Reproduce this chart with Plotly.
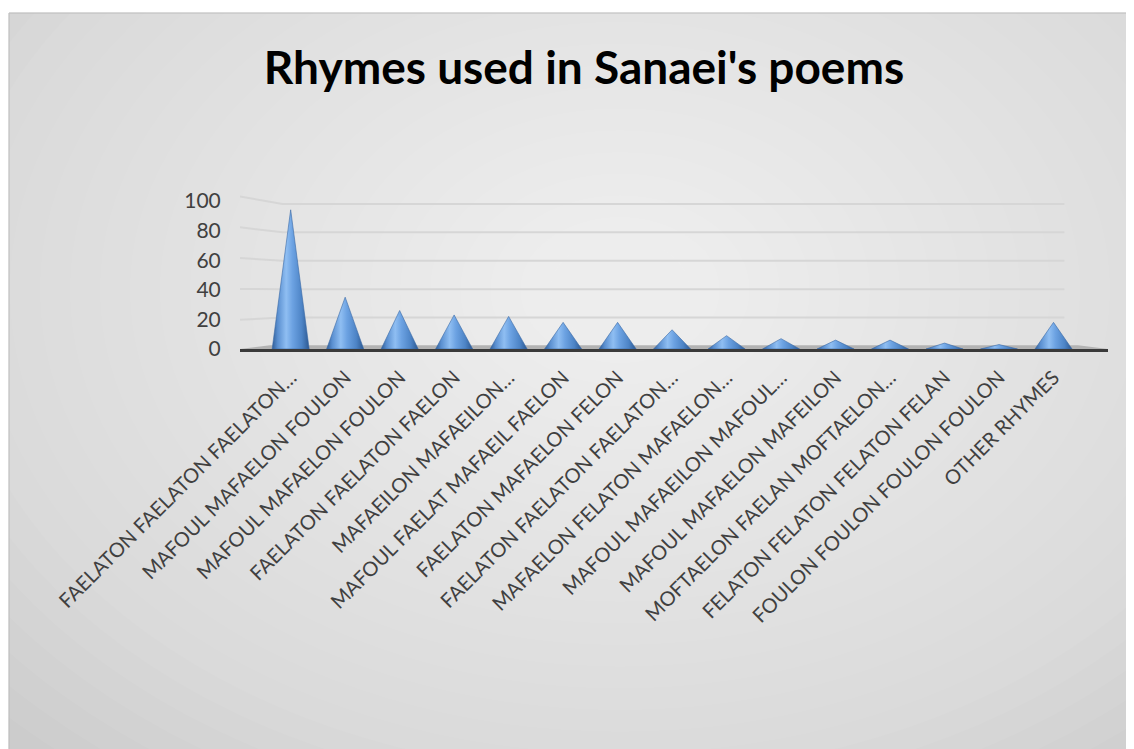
import plotly.graph_objects as go

# ---- data ----
title_text = "Rhymes used in Sanaei's poems"
categories = [
    "FAELATON FAELATON FAELATON…",
    "MAFOUL MAFAELON FOULON",
    "MAFOUL MAFAELON FOULON",
    "FAELATON FAELATON FAELON",
    "MAFAEILON MAFAEILON…",
    "MAFOUL FAELAT MAFAEIL FAELON",
    "FAELATON MAFAELON FELON",
    "FAELATON FAELATON FAELATON…",
    "MAFAELON FELATON MAFAELON…",
    "MAFOUL MAFAEILON MAFOUL…",
    "MAFOUL MAFAELON MAFEILON",
    "MOFTAELON FAELAN MOFTAELON…",
    "FELATON FELATON FELATON FELAN",
    "FOULON FOULON FOULON FOULON",
    "OTHER RHYMES",
]
values = [94, 35, 26, 23, 22, 18, 18, 13, 9, 7, 6, 6, 4, 3, 18]
y_ticks = [0, 20, 40, 60, 80, 100]

# ---- layout geometry (figure pixels; page has an 8px body offset) ----
OFF = 8
W, H = 1134, 749
L, R, T, B = 232, 34, 187, 408
plot_w = W - L - R
plot_h = H - T - B


def px_x(page_px):
    return (page_px - OFF - L) / plot_w


def px_y(page_py):
    return (H - B - (page_py - OFF)) / plot_h


x_range = [-0.93, 15.0]
y_range = [0, 104]

shapes = []
# chart area background with border
shapes.append(dict(type="rect", xref="paper", yref="paper", layer="below",
                   x0=px_x(9), x1=px_x(W + 20), y0=px_y(H + 20), y1=px_y(13),
                   fillcolor="#c6c6c6", line=dict(color="#bdbdbd", width=1)))
# soft radial highlight (stacked translucent ellipses)
cx, cy = 620, 290
n_layers = 30
for k in range(n_layers):
    f = 1 - k / n_layers
    rx, ry = 900 * f + 40, 650 * f + 30
    shapes.append(dict(type="circle", xref="paper", yref="paper", layer="below",
                       x0=px_x(cx - rx), x1=px_x(cx + rx),
                       y0=px_y(cy + ry), y1=px_y(cy - ry),
                       fillcolor="rgba(255,255,255,0.05)", line=dict(width=0)))
# white margin outside the chart frame (top and left)
shapes.append(dict(type="rect", xref="paper", yref="paper", layer="below",
                   x0=px_x(-20), x1=px_x(W + 20), y0=px_y(12.5), y1=px_y(-20),
                   fillcolor="white", line=dict(width=0)))
shapes.append(dict(type="rect", xref="paper", yref="paper", layer="below",
                   x0=px_x(-20), x1=px_x(8.5), y0=px_y(H + 20), y1=px_y(-20),
                   fillcolor="white", line=dict(width=0)))
shapes.append(dict(type="rect", xref="paper", yref="paper", layer="below",
                   x0=px_x(9), x1=px_x(W + 20), y0=px_y(H + 20), y1=px_y(13),
                   fillcolor="rgba(0,0,0,0)", line=dict(color="#bdbdbd", width=1)))
# gridlines drawn with slight 3D slant on the side wall
for t in y_ticks[1:]:
    front = t * 1.04 - 1
    back = t * 0.96 + 2
    shapes.append(dict(type="path", xref="x", yref="y", layer="below",
                       path=f"M {x_range[0]},{front} L -0.15,{back} L 14.2,{back}",
                       line=dict(color="#d6d6d6", width=2)))
# floor slab
shapes.append(dict(type="path", xref="x", yref="y", layer="below",
                   path=f"M {x_range[0]},0 L -0.38,2.6 L 14.45,2.6 L {x_range[1]},0 Z",
                   fillcolor="#b3b3b3", line=dict(width=0)))

fig = go.Figure()
hw = 0.34
cone_scale = [[0.0, "#2f5d97"], [0.15, "#5a8fd0"], [0.38, "#8fbef2"],
              [0.55, "#6ca2e2"], [0.8, "#4d84c6"], [1.0, "#2c5891"]]
for i, v in enumerate(values):
    fig.add_trace(go.Scatter(
        x=[i - hw, i, i + hw, i - hw], y=[0, v, 0, 0],
        mode="lines", fill="toself",
        line=dict(color="#3a6aa6", width=0.6),
        fillgradient=dict(type="horizontal", colorscale=cone_scale),
        name=categories[i], showlegend=False,
        hovertemplate=f"{categories[i]}: {v}<extra></extra>",
    ))

fig.update_layout(
    width=W, height=H,
    margin=dict(l=L, r=R, t=T, b=B, autoexpand=False),
    paper_bgcolor="white", plot_bgcolor="rgba(0,0,0,0)",
    shapes=shapes,
    title=dict(text=f"<b>{title_text}</b>", xref="container", yref="container",
               x=(584 - OFF) / W, y=1 - (68 - OFF) / H, xanchor="center", yanchor="middle",
               font=dict(family="Lato, Calibri, sans-serif", size=46, color="#000000")),
    xaxis=dict(range=x_range, tickmode="array", tickvals=list(range(len(categories))),
               ticktext=categories, tickangle=-45, showgrid=False, zeroline=False,
               showline=True, linecolor="#3a3a3a", linewidth=3,
               ticks="outside", ticklen=6, tickcolor="rgba(0,0,0,0)",
               tickfont=dict(family="Lato, Calibri, sans-serif", size=20, color="#404040")),
    yaxis=dict(range=y_range, tickmode="array", tickvals=y_ticks,
               showgrid=False, zeroline=False, showline=False,
               ticks="outside", ticklen=14, tickcolor="rgba(0,0,0,0)",
               tickfont=dict(family="Lato, Calibri, sans-serif", size=21, color="#404040")),
)

fig.write_html("out.html")
